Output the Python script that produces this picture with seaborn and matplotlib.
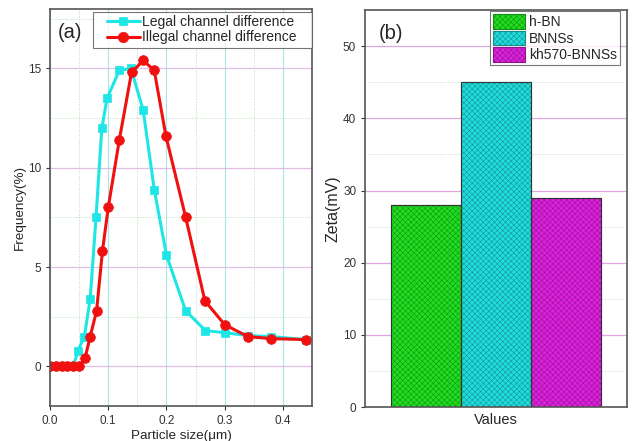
import numpy as np
import pandas as pd
import matplotlib
matplotlib.use("Agg")
import matplotlib.pyplot as plt
from matplotlib.ticker import MultipleLocator
from matplotlib.lines import Line2D
from matplotlib.legend_handler import HandlerLine2D
import seaborn as sns

# panel (a): particle size distribution
legal_x = [0.0, 0.01, 0.02, 0.03, 0.04, 0.048, 0.059, 0.069, 0.079, 0.089, 0.098,
           0.119, 0.139, 0.16, 0.179, 0.2, 0.233, 0.267, 0.3, 0.34, 0.38, 0.44]
legal_y = [0, 0, 0, 0, 0, 0.8, 1.5, 3.4, 7.5, 12.0, 13.5,
           14.9, 15.0, 12.9, 8.9, 5.6, 2.8, 1.8, 1.7, 1.55, 1.5, 1.35]
illegal_x = [0.0, 0.01, 0.02, 0.03, 0.04, 0.05, 0.06, 0.069, 0.08, 0.09, 0.1,
             0.119, 0.14, 0.16, 0.179, 0.199, 0.233, 0.266, 0.3, 0.34, 0.38, 0.44]
illegal_y = [0, 0, 0, 0, 0, 0, 0.4, 1.5, 2.8, 5.8, 8.0,
             11.4, 14.8, 15.4, 14.9, 11.6, 7.5, 3.3, 2.1, 1.5, 1.4, 1.35]
series_names = ["Legal channel difference", "Illegal channel difference"]

# panel (b): zeta potential
samples = ["h-BN", "BNNSs", "kh570-BNNSs"]
zeta = [28, 45, 29]
category = "Values"

sns.set_style("ticks")
plt.rcParams["font.family"] = ["Liberation Sans", "DejaVu Sans"]
plt.rcParams["hatch.linewidth"] = 0.35

fig = plt.figure(figsize=(6.33, 4.41), dpi=100)
ax1 = fig.add_axes([0.079, 0.079, 0.414, 0.901])
ax2 = fig.add_axes([0.577, 0.077, 0.413, 0.900])

line_df = pd.concat([
    pd.DataFrame({"size": legal_x, "freq": legal_y, "series": series_names[0]}),
    pd.DataFrame({"size": illegal_x, "freq": illegal_y, "series": series_names[1]}),
])

ax1.xaxis.set_major_locator(MultipleLocator(0.1))
ax1.xaxis.set_minor_locator(MultipleLocator(0.05))
ax1.yaxis.set_major_locator(MultipleLocator(5))
ax1.yaxis.set_minor_locator(MultipleLocator(2.5))
ax1.grid(True, which="major", axis="x", color="#a8e6e6", lw=0.8)
ax1.grid(True, which="major", axis="y", color="#e2bde6", lw=0.9)
ax1.grid(True, which="minor", color="#b8deb8", lw=0.7, ls=":")
ax1.set_axisbelow(True)

sns.lineplot(data=line_df, x="size", y="freq", hue="series", style="series",
             hue_order=series_names, style_order=series_names,
             palette=["#1ee6e6", "#f01010"], markers=["s", "o"], dashes=False,
             estimator=None, lw=2.2, ms=5.8, ax=ax1)
for ln in ax1.lines:
    ln.set_markeredgecolor(ln.get_color())
    ln.set_markeredgewidth(0.5)
ax1.lines[1].set_markersize(7)

ax1.set_xlim(0, 0.45)
ax1.set_ylim(-2, 18)
ax1.set_xlabel("Particle size(\u03bcm)", fontsize=9.7, labelpad=2)
ax1.set_ylabel("Frequency(%)", fontsize=9.7, labelpad=1)
ax1.tick_params(labelsize=8.5, direction="out", length=3, width=0.8, colors="#333333")
ax1.tick_params(which="minor", length=0)
ax1.text(0.03, 0.965, "(a)", transform=ax1.transAxes, fontsize=14.5, va="top")

handles, labels = ax1.get_legend_handles_labels()
leg1 = ax1.legend(handles, [lab + "   " for lab in labels],
                  loc="upper right", bbox_to_anchor=(1.0, 0.993),
                  fontsize=10, frameon=True, fancybox=False, borderaxespad=0,
                  handlelength=3.1, handletextpad=0.2, borderpad=0.25,
                  labelspacing=0.1,
                  handler_map={Line2D: HandlerLine2D(xpad=0.75)})
leg1.get_frame().set_edgecolor("#555555")
leg1.get_frame().set_linewidth(0.8)
for h, ms in zip(leg1.get_lines(), [6.2, 7.5]):
    h.set_markeredgecolor(h.get_color())
    h.set_markersize(ms)
    h.set_linewidth(2.2)

bar_df = pd.DataFrame({"cat": category, "sample": samples, "zeta": zeta})
ax2.yaxis.set_major_locator(MultipleLocator(10))
ax2.yaxis.set_minor_locator(MultipleLocator(5))
ax2.grid(True, which="major", axis="y", color="#e2a6e2", lw=0.9)
ax2.grid(True, which="minor", axis="y", color="#b8deb8", lw=0.7, ls=":")
ax2.set_axisbelow(True)

bar_colors = ["#20dd20", "#20dddd", "#dd20dd"]
hatch_colors = ["#148a14", "#148a8a", "#8a148a"]
sns.barplot(data=bar_df, x="cat", y="zeta", hue="sample", hue_order=samples,
            palette=bar_colors, saturation=1, width=0.8,
            edgecolor="#333333", linewidth=0.8, ax=ax2)
for p, hc in zip(ax2.patches[:3], hatch_colors):
    p.set_hatch("xxxxxx")
    p.set_edgecolor(hc)
leg2 = ax2.legend(loc="upper right", bbox_to_anchor=(0.973, 0.997),
                  fontsize=10, frameon=True, fancybox=False, borderaxespad=0,
                  handlelength=2.3, handleheight=1.25, handletextpad=0.3,
                  borderpad=0.2, labelspacing=0.1)
for p, hc in zip(leg2.get_patches(), hatch_colors):
    p.set_hatch("xxxxxx")
    p.set_edgecolor(hc)
leg2.get_frame().set_edgecolor("#555555")
leg2.get_frame().set_linewidth(0.8)
# dark outline drawn over the hatched bars
for p in ax2.patches[:3]:
    ax2.add_patch(plt.Rectangle(p.get_xy(), p.get_width(), p.get_height(),
                                fill=False, edgecolor="#333333", lw=0.8))

ax2.set_xlim(-0.5, 0.5)
ax2.set_ylim(0, 55)
ax2.set_xlabel("Values", fontsize=10.5, labelpad=4)
ax2.set_ylabel("Zeta(mV)", fontsize=11.5, labelpad=2)
ax2.set_xticks([])
ax2.tick_params(labelsize=8.5, direction="out", length=3, width=0.8, colors="#333333")
ax2.tick_params(which="minor", length=0)
ax2.text(0.05, 0.965, "(b)", transform=ax2.transAxes, fontsize=14.5, va="top")

for ax in (ax1, ax2):
    for s in ax.spines.values():
        s.set_color("#555555")
        s.set_linewidth(1.2)

fig.savefig("out.png", dpi=100)
